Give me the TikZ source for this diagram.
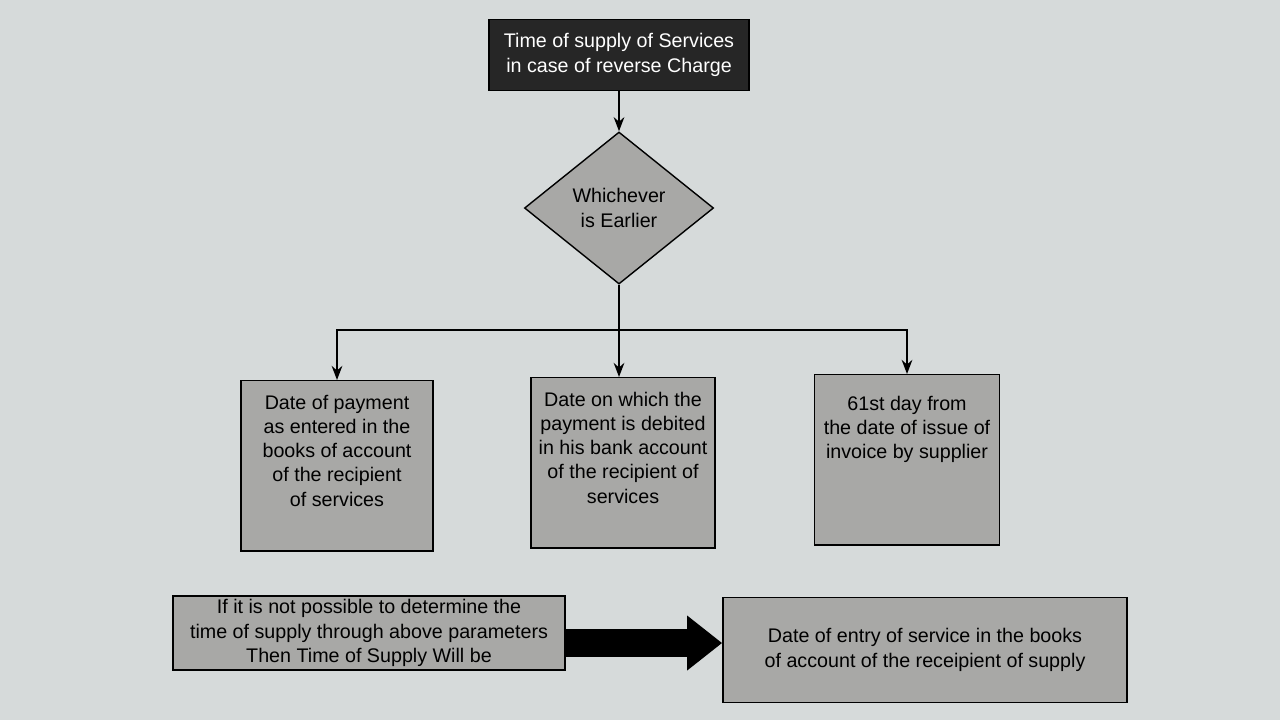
\documentclass[tikz,border=0pt]{standalone}
\usepackage{fontspec}
\setmainfont{Liberation Sans}
\usetikzlibrary{positioning,shapes.geometric,arrows.meta}
\definecolor{paper}{RGB}{214,218,218}
\definecolor{boxgray}{RGB}{168,168,166}
\tikzset{
  txt/.style={align=center,inner sep=1pt,font=\fontsize{5.6}{6.9}\selectfont},
  box/.style={draw=black,fill=boxgray,txt},
  option/.style={draw=black,fill=boxgray,anchor=north,minimum height=1.70cm},
  link/.style={thick,-{Stealth[length=4pt]}}
}
\begin{document}
\begin{tikzpicture}[x=0.01cm,y=-0.01cm]
	%page
	\fill[paper] (0,0) rectangle (1280,720);
	\useasboundingbox (0,0) rectangle (1280,720);

	%title and decision
	\node[box,fill=black!85,text=white,minimum width=2.6cm,minimum height=0.71cm] (title) at (619,55) {Time of supply of Services\\in case of reverse Charge};
	\node[box,diamond,minimum width=1.89cm,minimum height=1.52cm,inner sep=0pt] (earlier) at (619,208) {Whichever\\is Earlier};

	%options
	\node[option,minimum width=1.92cm] (payment) at (337,380) {};
	\node[txt,below=3pt of payment.north] {Date of payment\\as entered in the\\books of account\\of the recipient\\of services};
	\node[option,minimum width=1.84cm] (debit) at (623,377) {};
	\node[txt,below=3pt of debit.north] {Date on which the\\payment is debited\\in his bank account\\of the recipient of\\services};
	\node[option,minimum width=1.85cm] (day) at (907,374) {};
	\node[txt,below=5pt of day.north] {61st day from\\the date of issue of\\invoice by supplier};

	%fallback
	\node[box,minimum width=3.92cm,minimum height=0.67cm] (fallback) at (369,633) {If it is not possible to determine the\\time of supply through above parameters\\Then Time of Supply Will be};
	\node[box,minimum width=4.04cm,minimum height=1.05cm] (entry) at (925,650) {Date of entry of service in the books\\of account of the receipient of supply};

	%connectors
	\draw[link] (title) -- (earlier);
	\coordinate (split) at (619,330);
	\draw[thick] (earlier.south) -- (split);
	\draw[link] (split) -| (payment.north);
	\draw[link] (split) -- (split |- debit.north);
	\draw[link] (split) -| (day.north);
	\draw[line width=8pt,-{Triangle[length=10pt,width=15pt]}] (fallback.east |- 0,643) -- (entry.west |- 0,643);
\end{tikzpicture}
\end{document}
